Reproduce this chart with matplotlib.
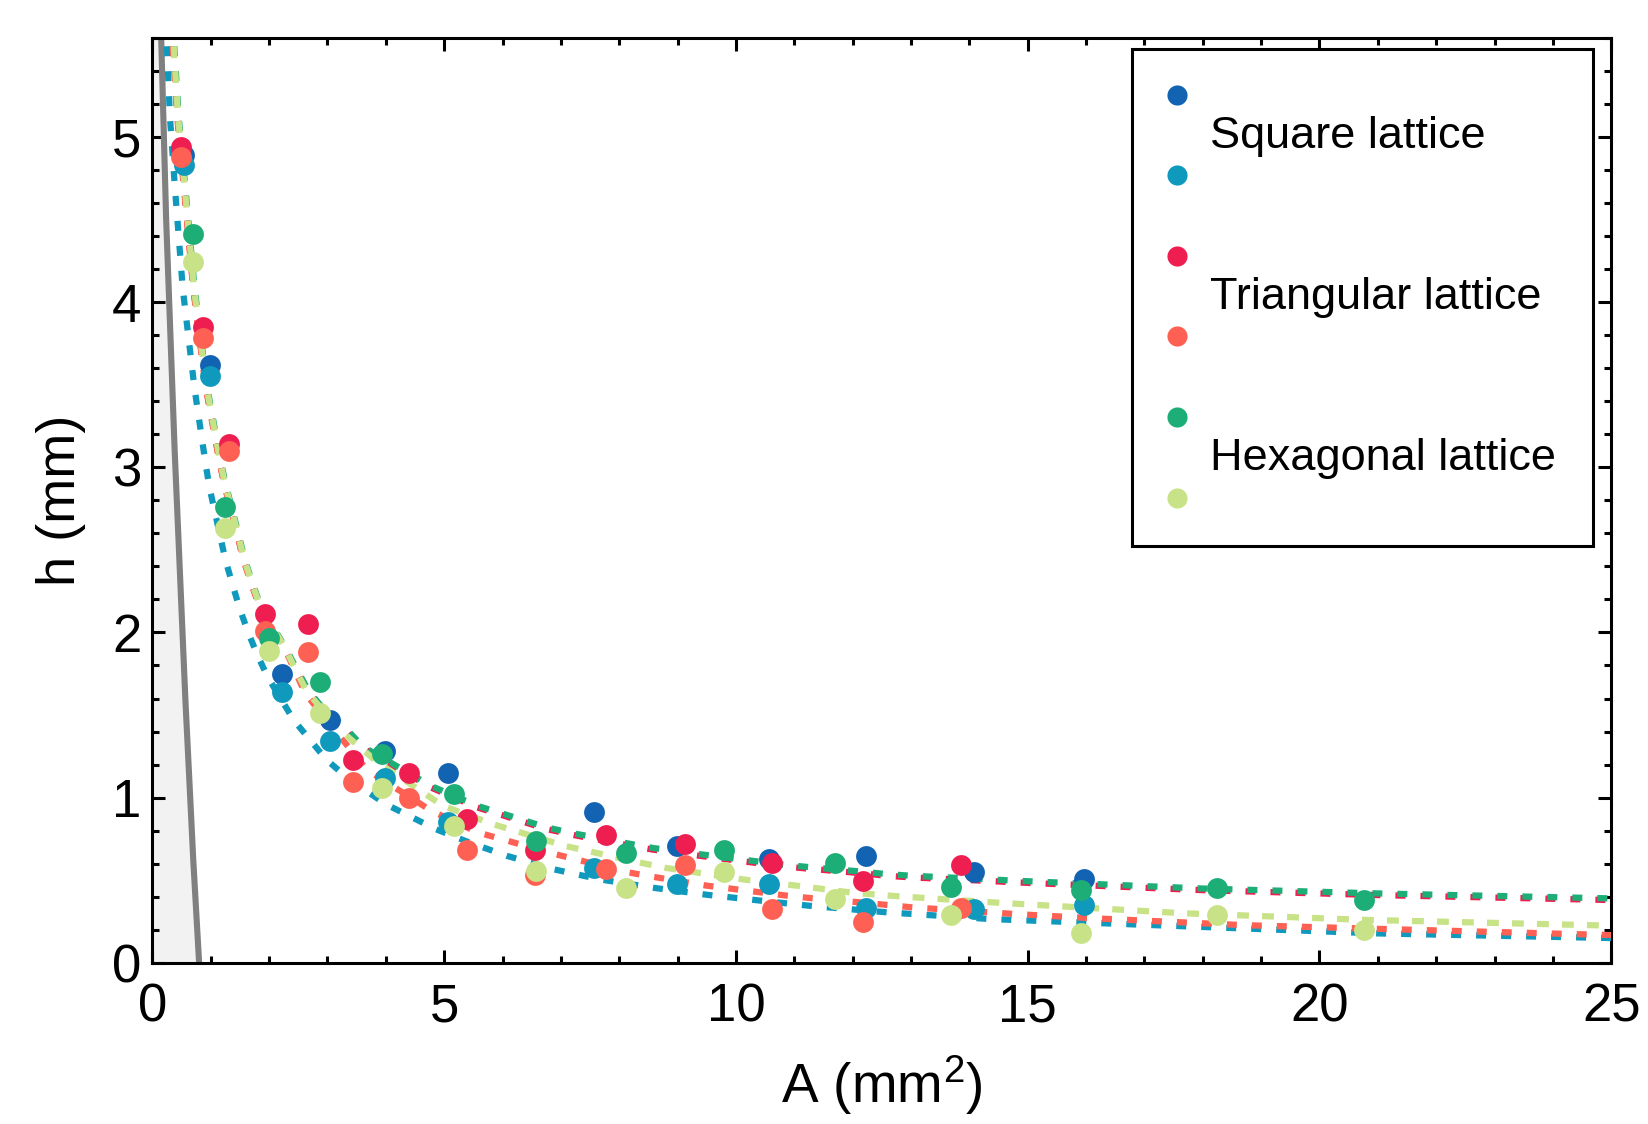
import matplotlib
matplotlib.use("Agg")
import matplotlib.pyplot as plt
from matplotlib.ticker import MultipleLocator
from matplotlib.lines import Line2D
from matplotlib.offsetbox import AnchoredOffsetbox, VPacker, HPacker, DrawingArea, TextArea

plt.rcParams["font.family"] = ["Liberation Sans", "DejaVu Sans"]
plt.rcParams["mathtext.fontset"] = "custom"
plt.rcParams["mathtext.rm"] = "Liberation Sans"
plt.rcParams["mathtext.default"] = "regular"

# measured points, A (mm^2) and h (mm)
sq_A = [0.54, 0.98, 2.22, 3.05, 3.99, 5.06, 7.56, 8.99, 10.56, 12.23, 14.08, 15.97]
sq_h1 = [4.89, 3.62, 1.75, 1.47, 1.28, 1.15, 0.91, 0.705, 0.63, 0.645, 0.55, 0.51]
sq_h2 = [4.83, 3.55, 1.64, 1.34, 1.12, 0.85, 0.575, 0.477, 0.475, 0.33, 0.325, 0.35]

tri_A = [0.49, 0.87, 1.31, 1.93, 2.66, 3.43, 4.39, 5.39, 6.56, 7.77, 9.12, 10.61, 12.18, 13.85]
tri_h1 = [4.94, 3.85, 3.14, 2.11, 2.05, 1.23, 1.15, 0.87, 0.685, 0.775, 0.72, 0.605, 0.495, 0.59]
tri_h2 = [4.88, 3.78, 3.10, 2.01, 1.88, 1.095, 1.0, 0.68, 0.53, 0.57, 0.59, 0.325, 0.25, 0.33]

hex_A = [0.70, 1.24, 1.99, 2.87, 3.94, 5.16, 6.57, 8.11, 9.8, 11.69, 13.69, 15.91, 18.25, 20.77]
hex_h1 = [4.41, 2.76, 1.965, 1.70, 1.265, 1.02, 0.74, 0.665, 0.685, 0.605, 0.46, 0.44, 0.455, 0.38]
hex_h2 = [4.24, 2.63, 1.89, 1.51, 1.06, 0.83, 0.555, 0.455, 0.55, 0.385, 0.29, 0.18, 0.29, 0.20]

# fitted curves
fit_sq_A = [0.23, 0.245, 0.30, 0.39, 0.52, 0.72, 0.907, 0.976, 1.25, 1.364, 1.49, 1.63, 1.79,
            1.975, 2.42, 2.98, 3.34, 4.0, 4.85, 5.44, 6.09, 6.88, 7.67, 8.61, 9.5, 10.38,
            11.27, 12.61, 14.36, 16.1, 18.7, 21.0, 25.0]
fit_sq_h = [5.7, 5.57, 5.12, 4.67, 4.08, 3.48, 3.03, 2.88, 2.44, 2.30, 2.15, 2.01, 1.87,
            1.73, 1.47, 1.23, 1.12, 0.96, 0.81, 0.727, 0.646, 0.566, 0.505, 0.453, 0.412, 0.378,
            0.345, 0.305, 0.265, 0.242, 0.208, 0.178, 0.15]

fit_tri1_A = [0.33, 0.35, 0.43, 0.55, 0.703, 0.92, 1.154, 1.24, 1.46, 1.554, 1.685, 1.823,
              2.27, 2.45, 2.65, 2.9, 3.34, 3.6, 4.78, 5.57, 6.03, 6.75, 7.27, 8.13, 8.58, 9.44,
              10.81, 11.24, 12.13, 12.58, 13.01, 14.36, 14.79, 17.98, 21.0, 25.0]
fit_tri1_h = [5.7, 5.57, 5.12, 4.67, 4.08, 3.48, 3.03, 2.89, 2.59, 2.45, 2.31, 2.17,
              1.90, 1.78, 1.65, 1.545, 1.40, 1.30, 1.06, 0.94, 0.89, 0.81, 0.77, 0.713, 0.685, 0.645,
              0.584, 0.57, 0.543, 0.527, 0.517, 0.495, 0.487, 0.44, 0.41, 0.38]

fit_tri2_A = [0.325, 0.345, 0.425, 0.545, 0.70, 0.915, 1.15, 1.235, 1.455, 1.55, 1.68, 1.82,
              2.27, 2.62, 3.67, 4.78, 5.57, 6.91, 8.16, 8.61, 9.5, 9.96, 10.84, 11.27, 12.16,
              13.04, 14.38, 14.8, 16.1, 18.7, 21.8, 25.0]
fit_tri2_h = [5.7, 5.57, 5.12, 4.67, 4.08, 3.48, 3.03, 2.89, 2.59, 2.45, 2.31, 2.17,
              1.90, 1.63, 1.17, 0.92, 0.79, 0.657, 0.547, 0.519, 0.467, 0.447, 0.408, 0.392, 0.365,
              0.335, 0.305, 0.295, 0.27, 0.228, 0.198, 0.168]

fit_hex1_A = [0.35, 0.37, 0.45, 0.57, 0.723, 0.94, 1.174, 1.26, 1.48, 1.574, 1.705, 1.843,
              2.29, 2.47, 2.67, 2.9, 3.34, 3.6, 4.78, 5.57, 6.03, 6.75, 7.27, 8.13, 8.58, 9.44,
              10.81, 11.24, 12.13, 12.58, 13.01, 14.36, 14.79, 17.98, 21.0, 25.0]
fit_hex1_h = [5.7, 5.57, 5.12, 4.67, 4.08, 3.48, 3.03, 2.89, 2.59, 2.45, 2.31, 2.17,
              1.90, 1.78, 1.65, 1.55, 1.41, 1.31, 1.07, 0.95, 0.90, 0.82, 0.78, 0.724, 0.695, 0.655,
              0.594, 0.58, 0.553, 0.537, 0.527, 0.505, 0.497, 0.45, 0.42, 0.39]

fit_hex2_A = [0.34, 0.36, 0.44, 0.559, 0.713, 0.93, 1.164, 1.25, 1.47, 1.564, 1.695, 1.833,
              2.28, 2.46, 2.65, 3.21, 3.87, 4.39, 4.98, 5.83, 7.08, 8.39, 8.81, 10.16, 11.04,
              11.96, 12.81, 14.58, 17.67, 20.78, 25.0]
fit_hex2_h = [5.7, 5.57, 5.12, 4.67, 4.08, 3.48, 3.03, 2.89, 2.59, 2.45, 2.31, 2.17,
              1.90, 1.77, 1.64, 1.41, 1.21, 1.09, 0.95, 0.84, 0.707, 0.604, 0.574, 0.503, 0.467,
              0.426, 0.402, 0.362, 0.30, 0.26, 0.225]

# grey limit line on the left
limit_A = [0.15, 0.235, 0.38, 0.565, 0.70, 0.80]
limit_h = [5.6, 4.5, 3.11, 1.59, 0.62, 0.0]

legend_labels = ["Square lattice", "Triangular lattice", "Hexagonal lattice"]

c_sq1, c_sq2 = "#1363b3", "#0f99bd"
c_tri1, c_tri2 = "#ee1f50", "#fe6154"
c_hex1, c_hex2 = "#1dae77", "#c8e387"

fig = plt.figure(figsize=(16.48, 11.24), dpi=100)
ax = fig.add_axes([0.0925, 0.1434, 0.8852, 0.8230])

ax.fill_betweenx(limit_h, 0, limit_A, color="#f2f2f2", lw=0, zorder=1)
ax.plot(limit_A, limit_h, color="#808080", lw=4.4, zorder=2, solid_capstyle="butt")

dash = (1.6, 2.4)
for A, h, c, d in [(fit_sq_A, fit_sq_h, c_sq2, dash),
                   (fit_tri1_A, fit_tri1_h, c_tri1, dash),
                   (fit_tri2_A, fit_tri2_h, c_tri2, dash),
                   (fit_hex1_A, fit_hex1_h, c_hex1, dash),
                   (fit_hex2_A, fit_hex2_h, c_hex2, (1.9, 2.1))]:
    ax.plot(A, h, color=c, lw=4.5, dashes=d, zorder=3)

ms = 15
for A, h, c in [(sq_A, sq_h1, c_sq1), (sq_A, sq_h2, c_sq2),
                (tri_A, tri_h1, c_tri1), (tri_A, tri_h2, c_tri2),
                (hex_A, hex_h1, c_hex1), (hex_A, hex_h2, c_hex2)]:
    ax.plot(A, h, "o", color=c, ms=ms, mew=0, zorder=4, clip_on=False)

ax.set_xlim(0, 25)
ax.set_ylim(0, 5.6)
ax.xaxis.set_major_locator(MultipleLocator(5))
ax.xaxis.set_minor_locator(MultipleLocator(1))
ax.yaxis.set_major_locator(MultipleLocator(1))
ax.yaxis.set_minor_locator(MultipleLocator(0.2))
ax.tick_params(which="both", direction="in", top=True, right=True, width=2.2, labelsize=38)
ax.tick_params(which="major", length=9.5)
ax.tick_params(which="minor", length=5)
ax.tick_params(axis="x", pad=14)
ax.tick_params(axis="y", pad=8)
for s in ax.spines.values():
    s.set_linewidth(2.2)

ax.set_xlabel("A (mm$^2$)", fontsize=39.5, labelpad=15)
ax.set_ylabel("h (mm)", fontsize=39, labelpad=19)

# legend: two markers per lattice with the label between them
fs = 32.5
rows = []
for label, (ca, cb) in zip(legend_labels, [(c_sq1, c_sq2), (c_tri1, c_tri2), (c_hex1, c_hex2)]):
    da = DrawingArea(22, 84, 0, 0)
    da.add_artist(Line2D([11], [42 + 30], marker="o", ms=14.5, color=ca, ls="none", mew=0))
    da.add_artist(Line2D([11], [42 - 28], marker="o", ms=14.5, color=cb, ls="none", mew=0))
    ta = TextArea(label, textprops=dict(fontsize=fs))
    rows.append(HPacker(children=[da, DrawingArea(13, 1, 0, 0), ta, DrawingArea(5.5, 1, 0, 0)],
                        align="center", pad=0, sep=0))
box = VPacker(children=rows, align="left", pad=0, sep=32)
leg = AnchoredOffsetbox(loc="upper right", child=box, pad=0.65, borderpad=0, frameon=True,
                        bbox_to_anchor=(1 - 18 / 1459, 1 - 11 / 925),
                        bbox_transform=ax.transAxes, prop=dict(size=fs))
leg.patch.set_linewidth(2.2)
leg.patch.set_edgecolor("black")
leg.zorder = 6
ax.add_artist(leg)

fig.savefig("out.png", dpi=100)
